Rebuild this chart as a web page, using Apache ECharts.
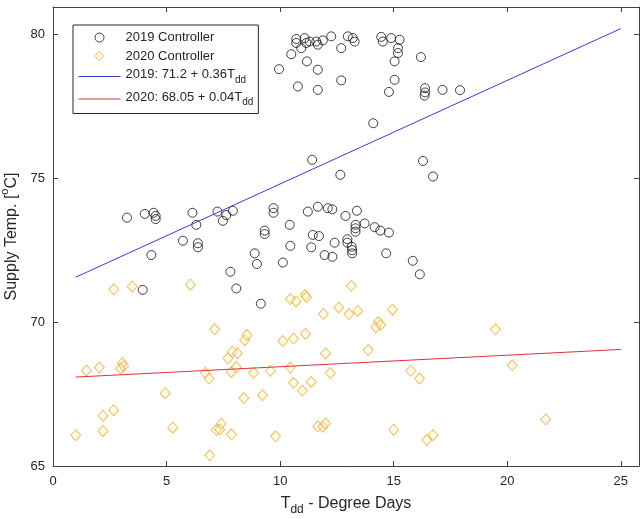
<!DOCTYPE html>
<html>
<head>
<meta charset="utf-8">
<script src="https://cdn.jsdelivr.net/npm/echarts@6/dist/echarts.min.js"></script>
<style>
html,body{margin:0;padding:0;background:#fff;}
#chart{width:640px;height:519px;}
</style>
</head>
<body>
<div id="chart"></div>
<script>
// 2019 Controller (circles)
const x2019 = [9.95,10.49,10.71,10.71,10.93,11.08,11.15,11.30,11.59,11.66,11.88,12.25,11.18,11.66,10.78,11.66,12.69,12.98,13.2,13.28,12.69,14.45,14.52,14.89,15.26,15.19,15.19,15.04,15.04,14.79,16.2,16.38,16.38,16.36,17.15,17.92,14.1,16.29,16.73,12.65,11.41,
3.26,4.04,4.43,4.52,4.52,6.14,6.31,5.72,6.38,6.38,4.33,7.24,7.63,7.48,7.92,7.81,8.07,3.95,9.71,9.71,9.32,9.32,8.88,8.98,9.15,10.12,10.42,10.45,11.22,11.66,12.1,12.3,12.88,13.38,13.72,13.32,13.32,13.32,14.16,14.41,14.79,11.44,11.71,12.4,12.96,12.96,13.15,13.17,13.17,11.37,11.96,12.3,14.67,15.84,16.15];
const y2019 = [78.79,79.31,79.84,79.70,79.52,79.87,79.70,79.75,79.75,79.64,79.79,79.93,79.06,78.77,78.19,78.07,79.52,79.93,79.87,79.75,78.40,79.91,79.75,79.87,79.81,79.52,79.35,79.06,78.42,78.0,79.21,78.13,77.98,77.87,78.07,78.06,76.91,75.6,75.06,75.12,75.64,
73.63,73.76,73.8,73.69,73.58,73.8,73.38,72.83,72.74,72.6,72.33,73.84,73.72,73.52,73.87,71.75,71.17,71.12,73.96,73.8,73.18,73.06,72.39,72.02,70.64,72.07,73.38,72.65,73.84,74.01,73.96,73.92,73.69,73.87,73.43,73.38,73.26,73.14,73.3,73.18,73.11,73.03,72.99,72.76,72.88,72.76,72.62,72.5,72.39,72.6,72.33,72.27,72.39,72.13,71.66];

// 2020 Controller (diamonds)
const x2020 = [2.68,3.49,6.05,10.45,10.7,11.1,11.16,13.14,11.91,12.58,13.03,13.42,14.32,14.22,14.43,14.95,7.12,8.44,8.54,10.12,10.59,11.12,7.9,7.7,8.12,12.0,13.88,1.47,2.04,3.05,3.11,2.97,6.71,6.87,7.85,8.07,8.83,9.57,10.45,10.59,10.98,11.37,12.21,15.75,16.14,4.94,8.4,9.22,2.2,2.67,1.0,2.2,5.27,7.41,7.19,7.34,7.86,9.8,11.66,11.88,12.0,15.0,16.46,16.73,6.9,21.69,19.48,20.22];
const y2020 = [71.14,71.24,71.3,70.8,70.72,70.94,70.87,71.26,70.29,70.51,70.28,70.39,70.0,69.82,69.9,70.43,69.75,69.37,69.55,69.34,69.43,69.59,68.97,68.74,68.91,68.91,69.03,68.32,68.42,68.58,68.47,68.39,68.24,68.04,68.27,68.44,68.24,68.31,68.42,67.89,67.62,67.92,68.23,68.31,68.04,67.53,67.36,67.46,66.75,66.94,66.07,66.22,66.33,66.47,66.25,66.27,66.1,66.03,66.38,66.36,66.48,66.26,65.9,66.07,65.37,66.62,69.75,68.5];

// Fit lines (end points)
const fit2019X = [1, 25];
const fit2019Y = [71.56, 80.2];
const fit2020X = [1, 25];
const fit2020Y = [68.09, 69.05];

// Axes
const xTicks = [0, 5, 10, 15, 20, 25];
const yTicks = [65, 70, 75, 80];
const xRange = [0, 25.8];
const yRange = [65, 80.95];

const seriesNames = ['2019 Controller', '2020 Controller', '2019: 71.2 + 0.36T', '2020: 68.05 + 0.04T'];

const pair = (xs, ys) => xs.map((x, i) => [x, ys[i]]);

const axisColor = '#404040';
const textColor = '#262626';
const FONT = 'Liberation Sans, Arial, sans-serif';
const C2019 = '#111111';
const C2020 = '#E6B03A';
const CFIT19 = '#3a3ad0';
const CFIT20 = '#e0303a';

// legend icons: box 42 x 11 (corner move-tos fix the bounding box)
const ICON_CIRCLE = 'path://M0,0M42,11M25.5,5.5A4.5,4.5,0,1,1,16.5,5.5A4.5,4.5,0,1,1,25.5,5.5Z';
const ICON_DIAMOND = 'path://M0,0M42,11M21,0.5L25.3,5.5L21,10.5L16.7,5.5Z';

const chart = echarts.init(document.getElementById('chart'), null, {renderer: 'canvas'});

const baseX = {
  type: 'value', min: xRange[0], max: xRange[1], interval: 5,
  axisLine: {show: true, onZero: false, lineStyle: {color: axisColor, width: 1}},
  axisTick: {show: true, inside: true, length: 5, lineStyle: {color: axisColor}},
  splitLine: {show: false}
};
const baseY = {
  type: 'value', min: yRange[0], max: yRange[1], interval: 5,
  axisLine: {show: true, onZero: false, lineStyle: {color: axisColor, width: 1}},
  axisTick: {show: true, inside: true, length: 5, lineStyle: {color: axisColor}},
  splitLine: {show: false}
};

const option = {
  animation: false,
  backgroundColor: '#ffffff',
  textStyle: {fontFamily: FONT},
  grid: {left: 53, right: 1, top: 7, bottom: 53, containLabel: false, outerBoundsMode: 'none'},
  xAxis: [
    Object.assign({}, baseX, {
      position: 'bottom',
      axisLabel: {show: true, color: textColor, fontSize: 13, fontFamily: FONT, margin: 9, showMaxLabel: false,
        formatter: v => xTicks.includes(v) ? String(v) : ''},
      name: '{a|T}{s|dd}{a| - Degree Days}',
      nameLocation: 'middle', nameGap: 30,
      nameTextStyle: {
        color: textColor, fontFamily: FONT,
        rich: {
          a: {fontSize: 16, color: textColor, fontFamily: FONT, verticalAlign: 'top'},
          s: {fontSize: 12, color: textColor, fontFamily: FONT, verticalAlign: 'top', padding: [8, 0, 0, 0]}
        }
      }
    }),
    Object.assign({}, baseX, {position: 'top', axisLabel: {show: false}})
  ],
  yAxis: [
    Object.assign({}, baseY, {
      position: 'left',
      axisLabel: {show: true, color: textColor, fontSize: 13, fontFamily: FONT, margin: 8, showMaxLabel: false,
        formatter: v => yTicks.includes(v) ? String(v) : ''},
      name: '{a|Supply Temp. [}{p|o}{a|C]}',
      nameLocation: 'middle', nameGap: 27, nameRotate: 90,
      nameTextStyle: {
        color: textColor, fontFamily: FONT,
        rich: {
          a: {fontSize: 16, color: textColor, fontFamily: FONT, verticalAlign: 'top', padding: [4, 0, 0, 0]},
          p: {fontSize: 11, color: textColor, fontFamily: FONT, verticalAlign: 'top'}
        }
      }
    }),
    Object.assign({}, baseY, {position: 'right', axisLabel: {show: false}})
  ],
  legend: {
    orient: 'vertical', left: 73, top: 25,
    itemWidth: 42, itemHeight: 11, itemGap: 5.5,
    padding: [6, 5, 6, 5],
    backgroundColor: '#ffffff', borderColor: '#262626', borderWidth: 1,
    data: [
      {name: seriesNames[0], icon: ICON_CIRCLE, itemStyle: {color: 'rgba(255,255,255,0)', borderColor: C2019, borderWidth: 1}},
      {name: seriesNames[1], icon: ICON_DIAMOND, itemStyle: {color: 'rgba(253,240,200,0.6)', borderColor: C2020, borderWidth: 1}},
      {name: seriesNames[2], itemStyle: {opacity: 0}, lineStyle: {color: CFIT19, width: 1}},
      {name: seriesNames[3], itemStyle: {opacity: 0}, lineStyle: {color: CFIT20, width: 1}}
    ],
    formatter: name => {
      if (name.endsWith('T')) return '{m|' + name + '}{s|dd}';
      return '{m|' + name + '}';
    },
    textStyle: {
      color: textColor, fontFamily: FONT, fontSize: 13,
      rich: {
        m: {fontSize: 13, color: textColor, fontFamily: FONT, verticalAlign: 'top'},
        s: {fontSize: 10, color: textColor, fontFamily: FONT, verticalAlign: 'top', padding: [7, 0, 0, 0]}
      }
    }
  },
  series: [
    {
      name: seriesNames[0], type: 'scatter', xAxisIndex: 0, yAxisIndex: 0,
      data: pair(x2019, y2019),
      symbol: 'circle', symbolSize: 9,
      itemStyle: {color: 'rgba(255,255,255,0)', borderColor: C2019, borderWidth: 1},
      z: 3
    },
    {
      name: seriesNames[1], type: 'scatter', xAxisIndex: 0, yAxisIndex: 0,
      data: pair(x2020, y2020),
      symbol: 'diamond', symbolSize: [10, 11],
      itemStyle: {color: 'rgba(253,240,200,0.45)', borderColor: C2020, borderWidth: 1},
      z: 2
    },
    {
      name: seriesNames[2], type: 'line', xAxisIndex: 0, yAxisIndex: 0,
      data: pair(fit2019X, fit2019Y),
      symbol: 'none', showSymbol: false,
      lineStyle: {color: CFIT19, width: 1},
      itemStyle: {color: CFIT19},
      z: 4
    },
    {
      name: seriesNames[3], type: 'line', xAxisIndex: 0, yAxisIndex: 0,
      data: pair(fit2020X, fit2020Y),
      symbol: 'none', showSymbol: false,
      lineStyle: {color: CFIT20, width: 1},
      itemStyle: {color: CFIT20},
      z: 4
    }
  ]
};

chart.setOption(option);
</script>
</body>
</html>
